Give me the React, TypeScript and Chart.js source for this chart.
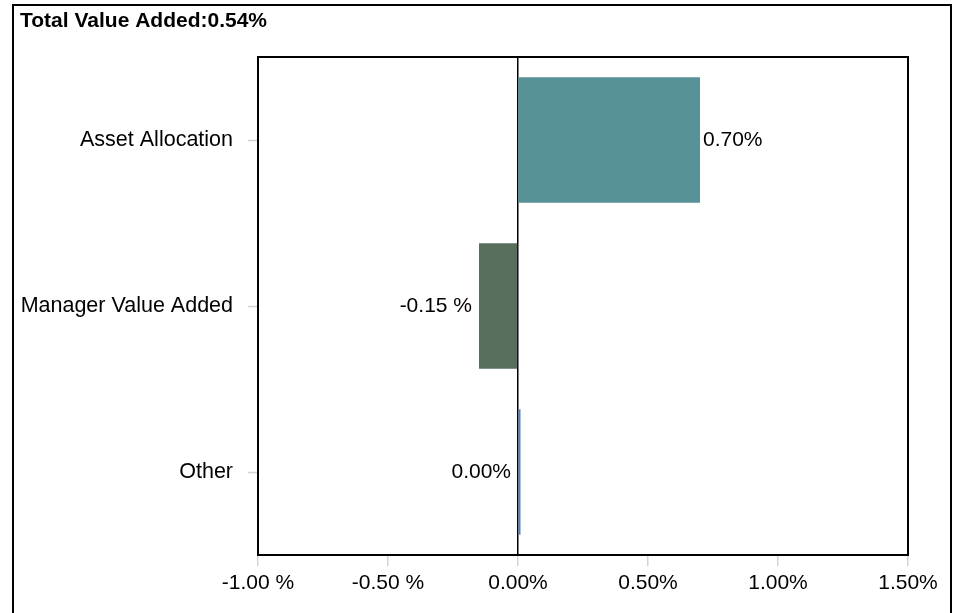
import React, { useEffect, useRef } from "react";
import { Chart, registerables } from "chart.js";

Chart.register(...registerables);

const categories = ["Asset Allocation", "Manager Value Added", "Other"];
const values = [0.7, -0.15, 0.004];
const barColors = ["#589299", "#5a6e5e", "#4a80c2"];
const xTicks = [-1.0, -0.5, 0.0, 0.5, 1.0, 1.5];
const titleText = "Total Value Added:0.54%";

const FONT = '"Liberation Sans", Arial, Helvetica, sans-serif';

const fmt = (v: number) => {
  const s = v.toFixed(2);
  return v < 0 ? `${s} %` : `${s}%`;
};

const CANVAS_W = 936;
const CANVAS_H = 607;

export default function App() {
  const ref = useRef<HTMLCanvasElement | null>(null);

  useEffect(() => {
    if (!ref.current) return;

    const overlay = {
      id: "overlay",
      afterDatasetsDraw(chart: any) {
        const { ctx, chartArea: a } = chart;
        const xs = chart.scales.x;
        const zero = xs.getPixelForValue(0);
        const meta = chart.getDatasetMeta(0);
        ctx.save();
        ctx.font = `21px ${FONT}`;
        ctx.fillStyle = "#000";
        ctx.textBaseline = "middle";
        meta.data.forEach((bar: any, i: number) => {
          const v = values[i];
          const { x, y } = bar.getProps(["x", "y"], true);
          if (Number(v.toFixed(2)) > 0) {
            ctx.textAlign = "left";
            ctx.fillText(fmt(v), x + 3, y);
          } else {
            ctx.textAlign = "right";
            ctx.fillText(fmt(v), Math.min(x, zero) - 7, y);
          }
        });
        ctx.strokeStyle = "#000";
        ctx.lineWidth = 2;
        ctx.strokeRect(a.left, a.top, a.right - a.left, a.bottom - a.top);
        ctx.font = `bold 21px ${FONT}`;
        ctx.textAlign = "left";
        ctx.textBaseline = "alphabetic";
        ctx.fillText(titleText, 6, 21);
        ctx.restore();
      },
    };

    const chart = new Chart(ref.current, {
      type: "bar",
      data: {
        labels: categories,
        datasets: [
          {
            data: values,
            backgroundColor: barColors,
            borderWidth: 0,
            categoryPercentage: 1,
            barPercentage: 0.755,
            minBarLength: 2.5,
          },
        ],
      },
      options: {
        indexAxis: "y",
        responsive: false,
        animation: false,
        layout: { padding: { top: 51, right: 42, bottom: 0, left: 0 } },
        plugins: {
          legend: { display: false },
          tooltip: { enabled: false },
          title: { display: false },
        },
        scales: {
          x: {
            type: "linear",
            min: -1,
            max: 1.5,
            afterBuildTicks: (scale: any) => {
              scale.ticks = xTicks.map((v) => ({ value: v }));
            },
            afterFit: (scale: any) => {
              scale.height = 58;
            },
            border: { display: false },
            grid: {
              drawOnChartArea: true,
              color: (c: any) =>
                c.tick && c.tick.value === 0 ? "#000" : "rgba(0,0,0,0)",
              lineWidth: 1.5,
              tickColor: "#d3d3d3",
              tickLength: 11,
              tickWidth: 1.5,
            },
            ticks: {
              color: "#000",
              padding: 5,
              maxRotation: 0,
              autoSkip: false,
              font: { family: FONT, size: 21 },
              callback: (v: any) => fmt(Number(v)),
            },
          },
          y: {
            afterFit: (scale: any) => {
              scale.width = 244;
            },
            border: { display: false },
            grid: {
              drawOnChartArea: false,
              offset: false,
              tickColor: "#d3d3d3",
              tickLength: 10,
              tickWidth: 1.5,
            },
            ticks: {
              color: "#000",
              padding: 15,
              font: { family: FONT, size: 21.5 },
            },
          },
        },
      },
      plugins: [overlay],
    } as any);

    return () => chart.destroy();
  }, []);

  return (
    <div
      style={{
        position: "absolute",
        left: 12,
        top: 4,
        width: 940,
        height: 609,
        boxSizing: "border-box",
        border: "2px solid #000",
        borderBottom: "none",
        background: "#fff",
        overflow: "hidden",
      }}
    >
      <canvas
        ref={ref}
        width={CANVAS_W}
        height={CANVAS_H}
        style={{ display: "block", width: CANVAS_W, height: CANVAS_H }}
      />
    </div>
  );
}
